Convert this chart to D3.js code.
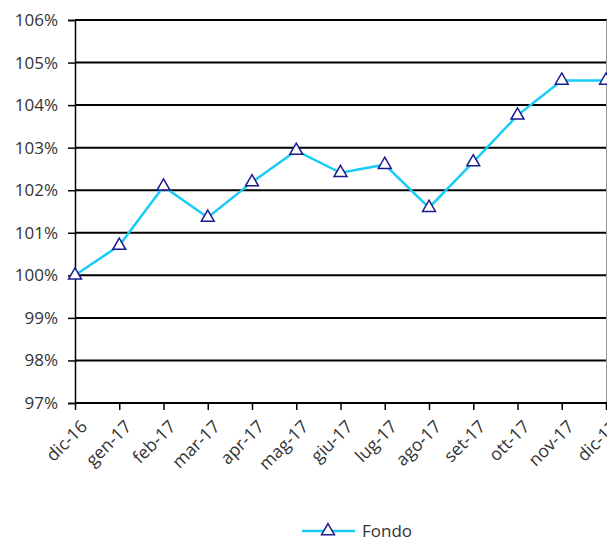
<!DOCTYPE html>
<html><head><meta charset="utf-8">
<script src="https://cdn.jsdelivr.net/npm/d3@7"></script>
<style>html,body{margin:0;padding:0;background:#fff;}svg{display:block;}</style>
</head><body>
<svg id="c" width="607" height="542"></svg>
<script>
const categories = ["dic-16","gen-17","feb-17","mar-17","apr-17","mag-17","giu-17","lug-17","ago-17","set-17","ott-17","nov-17","dic-17"];
const fondo = [100.00,100.70,102.09,101.36,102.19,102.93,102.41,102.60,101.59,102.66,103.76,104.58,104.58];
const yTicks = [97,98,99,100,101,102,103,104,105,106];
const seriesName = "Fondo";

const font = "'Open Sans', 'DejaVu Sans', sans-serif";
const svg = d3.select("#c");
const L = 75, R = 606, T = 20, B = 403;
const x = d3.scalePoint().domain(categories).range([L, R]);
const y = d3.scaleLinear().domain([97,106]).range([B, T]);

// gridlines
svg.append("g").selectAll("line").data(yTicks.filter(d=>d>97)).join("line")
  .attr("x1", L).attr("x2", 607).attr("y1", d=>y(d)).attr("y2", d=>y(d))
  .attr("stroke", "#000").attr("stroke-width", 2);
// right border
svg.append("line").attr("x1", R+0.5).attr("x2", R+0.5).attr("y1", T).attr("y2", B)
  .attr("stroke", "#999").attr("stroke-width", 1);

// y axis
const ya = svg.append("g").attr("transform", `translate(${L},0)`)
  .call(d3.axisLeft(y).tickValues(yTicks).tickFormat(d=>d+"%").tickSize(7).tickPadding(10));
ya.select(".domain").attr("stroke", "#000").attr("stroke-width", 1.5);
ya.selectAll(".tick line").attr("stroke", "#000").attr("stroke-width", 1.5);
ya.selectAll("text").attr("font-family", font).attr("font-size", 17).attr("fill", "#333");

// x axis
const xa = svg.append("g").attr("transform", `translate(0,${B})`)
  .call(d3.axisBottom(x).tickSize(7).tickPadding(4));
xa.select(".domain").attr("stroke", "#000").attr("stroke-width", 2).attr("d", `M${L},0H607`);
xa.selectAll(".tick line").attr("stroke", "#000").attr("stroke-width", 1.5);
xa.selectAll("text").attr("font-family", font).attr("font-size", 17.5).attr("fill", "#333")
  .attr("text-anchor", "end").attr("dy", 0)
  .attr("transform", "translate(5,17) rotate(-45)");

// line
const lineColor = "#19cbf7";
svg.append("path").datum(fondo)
  .attr("fill", "none").attr("stroke", lineColor).attr("stroke-width", 2.5)
  .attr("d", d3.line().x((d,i)=>x(categories[i])).y(d=>y(d)));

const tri = d3.symbol().type(d3.symbolTriangle).size(72);
svg.append("g").selectAll("path").data(fondo).join("path")
  .attr("d", tri)
  .attr("transform", (d,i)=>`translate(${x(categories[i])},${y(d)})`)
  .attr("fill", "#fff").attr("stroke", "#1a1a8c").attr("stroke-width", 1.5);

// legend
const lg = svg.append("g");
lg.append("line").attr("x1", 302).attr("x2", 355).attr("y1", 531).attr("y2", 531)
  .attr("stroke", lineColor).attr("stroke-width", 2.5);
lg.append("path").attr("d", tri).attr("transform", "translate(328,531)")
  .attr("fill", "#fff").attr("stroke", "#1a1a8c").attr("stroke-width", 1.5);
lg.append("text").attr("x", 362).attr("y", 530).attr("dominant-baseline", "central").text(seriesName)
  .attr("font-family", font).attr("font-size", 17).attr("fill", "#333");
</script>
</body></html>
